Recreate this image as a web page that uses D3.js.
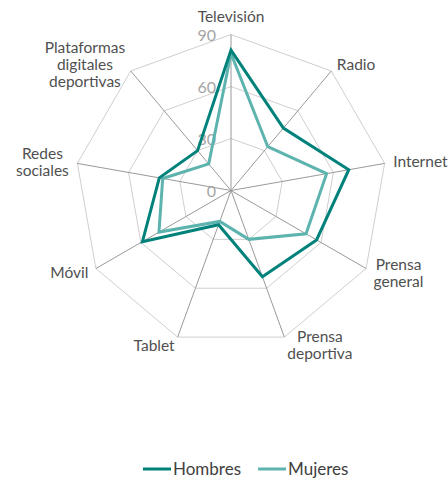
<!DOCTYPE html>
<html lang="es">
<head>
<meta charset="UTF-8">
<title>Radar</title>
<script src="https://cdn.jsdelivr.net/npm/d3@7"></script>
<style>
	html,body{margin:0;padding:0;background:#fff;}
	svg{display:block;font-family:"Lato",sans-serif;}
</style>
</head>
<body>
<svg id="svg" width="448" height="481"></svg>
<script>
var categories = ["Televisión","Radio","Internet","Prensa general","Prensa deportiva","Tablet","Móvil","Redes sociales","Plataformas digitales deportivas"];
var labelLines = [["Televisión"],["Radio"],["Internet"],["Prensa","general"],["Prensa","deportiva"],["Tablet"],["Móvil"],["Redes","sociales"],["Plataformas","digitales","deportivas"]];
var hombres = [81,47,69,57,53,21,59,42,30];
var mujeres = [79,33,56,50,30,19,48,40,20];
var ticks = [0,30,60,90];
var seriesNames = ["Hombres","Mujeres"];

var svg = d3.select("#svg");
var cx = 231, cy = 190.5, R = 156;

var r = d3.scaleLinear().domain([0,90]).range([0,R]);
var ang = d3.scaleBand().domain(categories).range([0,2*Math.PI]).align(0).paddingInner(0).paddingOuter(0);
function pt(c,v){ var a = ang(c); return [cx + r(v)*Math.sin(a), cy - r(v)*Math.cos(a)]; }

var g = svg.append("g");

// rings
ticks.filter(function(t){return t>0;}).forEach(function(t){
	g.append("path")
		.attr("d", d3.line()(categories.map(function(c){return pt(c,t);})) + "Z")
		.attr("fill","none").attr("stroke","#cfcfcf").attr("stroke-width",1);
});

// spokes
g.selectAll("line.spoke").data(categories).enter().append("line")
	.attr("x1",cx).attr("y1",cy)
	.attr("x2",function(c){return pt(c,90)[0];})
	.attr("y2",function(c){return pt(c,90)[1];})
	.attr("stroke","#9a9a9a").attr("stroke-width",1);

// tick labels
g.selectAll("text.tick").data(ticks).enter().append("text")
	.attr("x",cx-15).attr("y",function(t){return cy - r(t) + 1;})
	.attr("dy","0.35em").attr("text-anchor","end")
	.attr("fill","#a5a5a5").attr("font-size",16)
	.text(function(t){return t;});

// series
var colors = {Hombres:"#00827b", Mujeres:"#5db3ad"};
[[mujeres,"Mujeres"],[hombres,"Hombres"]].forEach(function(s){
	g.append("path")
		.attr("d", d3.line()(categories.map(function(c,i){return pt(c,s[0][i]);})) + "Z")
		.attr("fill","none").attr("stroke",colors[s[1]]).attr("stroke-width",3)
		.attr("stroke-linejoin","miter");
});

// category labels
var lh = 17;
categories.forEach(function(c,i){
	var a = ang(c);
	var p = pt(c,95);
	var lines = labelLines[i];
	var t = g.append("text").attr("font-size",15.5).attr("fill","#505050").attr("text-anchor","middle");
	var spans = lines.map(function(l){ return t.append("tspan").text(l); });
	var w = d3.max(spans, function(s){ return s.node().getComputedTextLength(); });
	var sinA = Math.sin(a);
	var x;
	if (Math.abs(sinA) < 0.01) x = p[0];
	else if (sinA > 0) x = p[0] + w/2;
	else x = p[0] - w/2;
	var y = p[1];
	if (Math.abs(sinA) < 0.01) y -= 9;
	var y0 = y - (lines.length-1)*lh/2;
	spans.forEach(function(s,j){ s.attr("x",x).attr("y",y0 + j*lh).attr("dy","0.35em"); });
});

// legend
var lg = svg.append("g").attr("transform","translate(143,469)");
var lx = 0;
seriesNames.forEach(function(name){
	var item = lg.append("g").attr("transform","translate("+lx+",0)");
	item.append("line").attr("x1",0).attr("x2",28).attr("y1",0).attr("y2",0)
		.attr("stroke",colors[name]).attr("stroke-width",3);
	var tx = item.append("text").attr("x",30).attr("dy","0.35em")
		.attr("font-size",17).attr("fill","#404040").text(name);
	lx += 30 + tx.node().getComputedTextLength() + 17;
});
</script>
</body>
</html>
